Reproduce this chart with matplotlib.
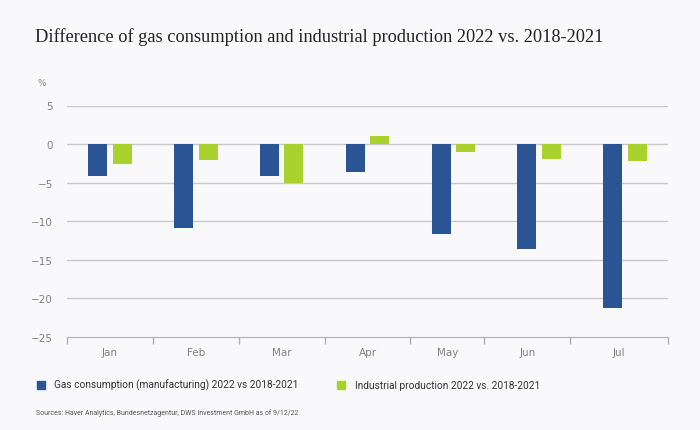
import matplotlib.pyplot as plt
import numpy as np

# data (% difference, 2022 vs 2018-2021)
months = ['Jan', 'Feb', 'Mar', 'Apr', 'May', 'Jun', 'Jul']
gas_consumption = [-4.2, -10.9, -4.1, -3.6, -11.6, -13.6, -21.2]
industrial_production = [-2.6, -2.0, -5.0, 1.0, -1.0, -1.9, -2.15]

gas_label = 'Gas consumption (manufacturing) 2022 vs 2018-2021'
ind_label = 'Industrial production 2022 vs. 2018-2021'

bg = '#f9f9fb'
blue = '#2b5494'
green = '#a9d22f'

fig = plt.figure(figsize=(7, 4.31), dpi=100, facecolor=bg)
ax = fig.add_axes([67 / 700, 1 - 338 / 431, 601 / 700, (338 - 106.5) / 431])
ax.set_facecolor(bg)

x = np.arange(len(months))
w = 0.22
ax.bar(x - 0.143, gas_consumption, width=w, color=blue, zorder=3)
ax.bar(x + 0.143, industrial_production, width=w, color=green, zorder=3)

ax.set_xlim(-0.5, len(months) - 0.5)
ax.set_ylim(-25, 5)
ax.set_yticks(np.arange(-25, 6, 5))
ax.set_yticklabels(['\u221225', '\u221220', '\u221215', '\u221210', '\u22125', '0', '5'])
for y in range(-20, 6, 5):
    ax.axhline(y, color='#c9c9cc', lw=1, zorder=1)

# month separators (as drawn in the reference) and labels between them
sep = [-0.5, 0.5, 1.5, 2.5, 3.5, 4.36, 5.36, 6.5]
ax.set_xticks(sep)
ax.set_xticklabels([])
ax.set_xticks([(a + b) / 2 for a, b in zip(sep[:-1], sep[1:])], minor=True)
ax.set_xticklabels(months, minor=True)
ax.tick_params(axis='x', which='major', length=5, color='#b0b0b4', width=1)
ax.tick_params(axis='x', which='minor', length=0, pad=7, labelsize=7.5, labelcolor='#808080')
ax.tick_params(axis='y', length=0, pad=10, labelsize=7.5, labelcolor='#808080')

for s in ['top', 'right', 'left']:
    ax.spines[s].set_visible(False)
ax.spines['bottom'].set_color('#b0b0b4')

fig.text(35 / 700, 1 - 37 / 431, 'Difference of gas consumption and industrial production 2022 vs. 2018-2021',
         fontsize=13.2, family='Liberation Serif', color='#222222', va='center')
fig.text(38 / 700, 1 - 83 / 431, '%', fontsize=6.5, color='#888888', va='center')

# legend
fig.patches.append(plt.Rectangle((37 / 700, 1 - 389.5 / 431), 8 / 700, 7.5 / 431,
                                 transform=fig.transFigure, color=blue))
fig.text(54 / 700, 1 - 385.7 / 431, gas_label, fontsize=7.3, family='Roboto',
         color='#333333', va='center')
fig.patches.append(plt.Rectangle((337 / 700, 1 - 389.5 / 431), 8 / 700, 7.5 / 431,
                                 transform=fig.transFigure, color=green))
fig.text(355 / 700, 1 - 385.7 / 431, ind_label, fontsize=7.3, family='Roboto',
         color='#333333', va='center')

fig.text(36 / 700, 1 - 412.7 / 431, 'Sources: Haver Analytics, Bundesnetzagentur, DWS Investment GmbH as of 9/12/22',
         fontsize=5.0, family='Roboto', color='#555555', va='center')

fig.savefig('out.png', dpi=100, facecolor=bg)
